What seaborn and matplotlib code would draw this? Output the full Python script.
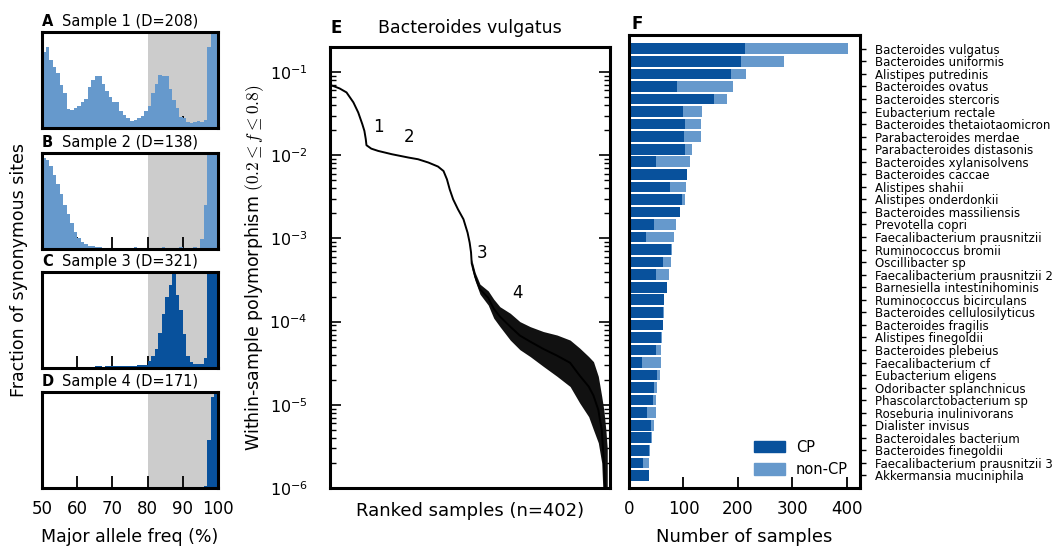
import numpy as np
import pandas as pd
import seaborn as sns
import matplotlib.pyplot as plt
from matplotlib.patches import Patch

sns.set_style("ticks")
plt.rcParams['font.family'] = ['DejaVu Sans']
plt.rcParams['mathtext.fontset'] = 'cm'
for key in ['text.color', 'axes.labelcolor', 'xtick.color', 'ytick.color']:
    plt.rcParams[key] = 'black'

CP_COLOR = '#08519c'
NONCP_COLOR = '#6699cc'
GRAY = '#cccccc'

# ---- panels A-D: major allele frequency histograms (1% bins, 50..100) ----
freq_centers = np.arange(50.5, 100, 1)
sample_titles = ['Sample 1 (D=208)', 'Sample 2 (D=138)', 'Sample 3 (D=321)', 'Sample 4 (D=171)']
panel_letters = ['A', 'B', 'C', 'D']
hist_sample1 = [0.79, 0.84, 0.71, 0.64, 0.57, 0.45, 0.36, 0.20, 0.19, 0.21,
                0.23, 0.27, 0.30, 0.43, 0.50, 0.54, 0.54, 0.46, 0.39, 0.32,
                0.27, 0.27, 0.18, 0.14, 0.10, 0.07, 0.08, 0.10, 0.125, 0.18,
                0.23, 0.36, 0.46, 0.55, 0.54, 0.54, 0.41, 0.29, 0.21, 0.11,
                0.10, 0.065, 0.055, 0.06, 0.07, 0.065, 0.08, 0.84, 1.2, 1.2]
hist_sample2 = [0.95, 0.93, 0.86, 0.77, 0.68, 0.57, 0.46, 0.36, 0.27, 0.18,
                0.11, 0.07, 0.055, 0.035, 0.03, 0.02, 0.018, 0.015, 0.012, 0.01,
                0.012, 0.015, 0.012, 0.01, 0.012, 0.015, 0.02, 0.015, 0.012, 0.015,
                0.01, 0.012, 0.015, 0.01, 0.02, 0.015, 0.012, 0.01, 0.015, 0.02,
                0.01, 0.012, 0.015, 0.02, 0.015, 0.10, 0.46, 1.2, 1.2, 1.2]
hist_sample3 = [0.01, 0.015, 0.01, 0.008, 0.012, 0.01, 0.015, 0.01, 0.012, 0.01,
                0.012, 0.015, 0.01, 0.015, 0.012, 0.018, 0.02, 0.015, 0.018, 0.02,
                0.02, 0.018, 0.022, 0.02, 0.025, 0.02, 0.025, 0.03, 0.028, 0.03,
                0.07, 0.12, 0.20, 0.36, 0.56, 0.74, 0.86, 1.05, 0.76, 0.60,
                0.35, 0.12, 0.06, 0.045, 0.04, 0.045, 0.10, 1.2, 1.2, 1.2]
hist_sample4 = [0.008, 0.005, 0.008, 0.006, 0.005, 0.008, 0.006, 0.005, 0.007, 0.005,
                0.006, 0.008, 0.005, 0.006, 0.005, 0.007, 0.008, 0.005, 0.006, 0.005,
                0.008, 0.006, 0.005, 0.007, 0.005, 0.006, 0.008, 0.005, 0.006, 0.005,
                0.006, 0.008, 0.005, 0.006, 0.007, 0.005, 0.008, 0.006, 0.005, 0.006,
                0.005, 0.007, 0.006, 0.005, 0.008, 0.006, 0.02, 0.5, 0.95, 1.2]
hist_colors = [NONCP_COLOR, NONCP_COLOR, CP_COLOR, CP_COLOR]

# ---- panel E: ranked within-sample polymorphism ----
rank_pts = [0, 4, 12, 22, 32, 39, 45, 48, 50, 51, 58, 68, 88, 112, 126, 141, 155, 163,
            168, 172, 177, 184, 192, 198, 201, 203, 204, 209, 216, 228, 236, 245, 260,
            274, 289, 308, 328, 347, 361, 374, 381, 388, 393, 396, 399, 401]
poly_mid = [0.069, 0.0673, 0.0635, 0.0569, 0.0432, 0.0327, 0.0236, 0.0196, 0.0156, 0.0132,
            0.0120, 0.01127, 0.01028, 0.00938, 0.00895, 0.00817, 0.00731, 0.00646,
            0.00513, 0.00389, 0.00295, 0.00224, 0.00170, 0.00117, 0.00089, 0.00068,
            5.0e-4, 3.47e-4, 2.45e-4, 1.93e-4, 1.43e-4, 1.15e-4, 8.7e-5, 6.8e-5, 5.75e-5,
            4.7e-5, 3.9e-5, 3.2e-5, 2.24e-5, 1.66e-5, 1.29e-5, 8.7e-6, 5.0e-6, 2.1e-6,
            7e-7, 5e-7]
rank_err = [204, 209, 216, 228, 236, 245, 260, 274, 289, 308, 328, 347, 361, 374, 381,
            388, 393, 396, 399, 401]
poly_lo = [4.4e-4, 3.09e-4, 2.14e-4, 1.58e-4, 1.10e-4, 8.7e-5, 6.0e-5, 4.6e-5, 3.8e-5,
           2.9e-5, 2.2e-5, 1.66e-5, 1.05e-5, 7.2e-6, 5.0e-6, 3.5e-6, 2.0e-6, 5e-7, 1e-7, 1e-7]
poly_hi = [5.6e-4, 3.89e-4, 2.82e-4, 2.34e-4, 1.86e-4, 1.51e-4, 1.26e-4, 1.0e-4, 8.7e-5,
           7.6e-5, 6.9e-5, 6.0e-5, 4.8e-5, 3.8e-5, 3.3e-5, 2.2e-5, 1.26e-5, 8.7e-6, 5.0e-6, 3e-6]
region_labels = ['1', '2', '3', '4']
region_x = [68, 113, 219, 270]
region_y = [0.0217, 0.0165, 6.6e-4, 2.2e-4]

# ---- panel F: number of samples per species ----
species = ['Bacteroides vulgatus', 'Bacteroides uniformis', 'Alistipes putredinis',
           'Bacteroides ovatus', 'Bacteroides stercoris', 'Eubacterium rectale',
           'Bacteroides thetaiotaomicron', 'Parabacteroides merdae',
           'Parabacteroides distasonis', 'Bacteroides xylanisolvens', 'Bacteroides caccae',
           'Alistipes shahii', 'Alistipes onderdonkii', 'Bacteroides massiliensis',
           'Prevotella copri', 'Faecalibacterium prausnitzii', 'Ruminococcus bromii',
           'Oscillibacter sp', 'Faecalibacterium prausnitzii 2',
           'Barnesiella intestinihominis', 'Ruminococcus bicirculans',
           'Bacteroides cellulosilyticus', 'Bacteroides fragilis', 'Alistipes finegoldii',
           'Bacteroides plebeius', 'Faecalibacterium cf', 'Eubacterium eligens',
           'Odoribacter splanchnicus', 'Phascolarctobacterium sp', 'Roseburia inulinivorans',
           'Dialister invisus', 'Bacteroidales bacterium', 'Bacteroides finegoldii',
           'Faecalibacterium prausnitzii 3', 'Akkermansia muciniphila']
cp_counts = [212, 206, 188, 88, 156, 99, 103, 101, 103, 50, 106, 75, 98, 94, 46, 31, 77,
             63, 50, 70, 64, 63, 63, 59, 50, 24, 52, 46, 44, 33, 40, 40, 37, 26, 37]
noncp_counts = [190, 79, 27, 102, 23, 35, 30, 32, 13, 62, 1, 30, 5, 0, 41, 52, 2, 14, 24,
                0, 0, 1, 0, 2, 9, 35, 5, 6, 6, 17, 6, 2, 2, 11, 0]

W, H = 1053, 546
fig = plt.figure(figsize=(W / 100, H / 100), dpi=100)

def box(ax):
    for s in ax.spines.values():
        s.set_visible(True)
        s.set_linewidth(2.2)
        s.set_color('black')

# histograms
hist_data = [hist_sample1, hist_sample2, hist_sample3, hist_sample4]
hist_tops = [32, 153, 272, 392]
for i in range(4):
    top = hist_tops[i]
    ax = fig.add_axes([42 / W, 1 - (top + 96) / H, 176 / W, 96 / H])
    ax.axvspan(80, 100, color=GRAY, lw=0, zorder=0)
    hdf = pd.DataFrame({'freq': freq_centers, 'w': hist_data[i]})
    sns.histplot(data=hdf, x='freq', weights='w', binwidth=1, binrange=(50, 100),
                 element='step', fill=True, color=hist_colors[i], alpha=1,
                 linewidth=0, ax=ax)
    ax.set_xlim(50, 100)
    ax.set_ylim(0, 1)
    ax.set_yticks([])
    ax.set_ylabel('')
    ax.set_xticks([50, 60, 70, 80, 90, 100])
    ax.tick_params(axis='x', direction='in', length=8.5, width=1.3, labelsize=12, pad=9)
    if i < 3:
        ax.set_xticklabels([])
        ax.set_xlabel('')
    else:
        ax.set_xlabel('Major allele freq (%)', fontsize=12.5, labelpad=7)
    box(ax)
    ax.text(0.0, 1.03, panel_letters[i], transform=ax.transAxes, fontsize=10.5,
            fontweight='bold', va='bottom', ha='left')
    ax.text(0.115, 1.03, sample_titles[i], transform=ax.transAxes, fontsize=10.5,
            va='bottom', ha='left')

fig.text(19 / W, 1 - 270 / H, 'Fraction of synonymous sites', rotation=90,
         fontsize=12.5, ha='center', va='center')

# panel E
axE = fig.add_axes([330 / W, 1 - 488 / H, 280 / W, 441 / H])
axE.fill_between(rank_err, poly_lo, poly_hi, color='#111111', lw=0)
sns.lineplot(x=rank_pts, y=poly_mid, color='black', lw=1.4, ax=axE)
axE.set_yscale('log')
axE.set_ylim(1e-6, 0.2)
axE.set_xlim(-2, 405)
axE.set_xticks([])
axE.tick_params(axis='y', which='both', direction='in', left=True, right=True)
axE.tick_params(axis='y', which='major', length=8, width=1.2, labelsize=11.5, pad=16)
axE.tick_params(axis='y', which='minor', length=4, width=1.0)
box(axE)
for lab, x, y in zip(region_labels, region_x, region_y):
    axE.text(x, y, lab, fontsize=12, ha='center', va='center')
axE.set_xlabel('Ranked samples (n=402)', fontsize=13, labelpad=10)
axE.set_ylabel(r'Within-sample polymorphism $(0.2\leq f\leq 0.8)$', fontsize=12.5,
               labelpad=2.5)
axE.set_title('Bacteroides vulgatus', fontsize=12.5, pad=10)
axE.text(0.0, 1.022, 'E', transform=axE.transAxes, fontsize=12, fontweight='bold',
         va='bottom', ha='left')

# panel F
df = pd.DataFrame({'species': species, 'cp': cp_counts, 'noncp': noncp_counts})
df['total'] = df['cp'] + df['noncp']
axF = fig.add_axes([629 / W, 1 - 488 / H, 231 / W, 453 / H])
sns.barplot(data=df, y='species', x='total', color=NONCP_COLOR, saturation=1,
            width=0.85, linewidth=0, errorbar=None, ax=axF)
sns.barplot(data=df, y='species', x='cp', color=CP_COLOR, saturation=1,
            width=0.85, linewidth=0, errorbar=None, ax=axF)
axF.set_xlim(0, 424)
axF.set_ylim(35.0, -1.1)
axF.set_xticks([0, 100, 200, 300, 400])
axF.yaxis.tick_right()
axF.tick_params(axis='y', left=False, right=True, direction='out', length=4.5, width=1,
                labelsize=8.5, pad=6)
axF.tick_params(axis='x', direction='in', length=8, width=1.3, labelsize=12, pad=9)
axF.set_ylabel('')
axF.set_xlabel('Number of samples', fontsize=13, labelpad=7)
box(axF)
axF.text(0.01, 1.005, 'F', transform=axF.transAxes, fontsize=12, fontweight='bold',
         va='bottom', ha='left')
handles = [Patch(color=CP_COLOR, label='CP'), Patch(color=NONCP_COLOR, label='non-CP')]
axF.legend(handles=handles, loc='lower right', bbox_to_anchor=(1.005, -0.005),
           frameon=False, fontsize=10.5, handlelength=2.1, handleheight=0.8,
           labelspacing=0.5, handletextpad=0.75)

fig.savefig('out.png', dpi=100)
